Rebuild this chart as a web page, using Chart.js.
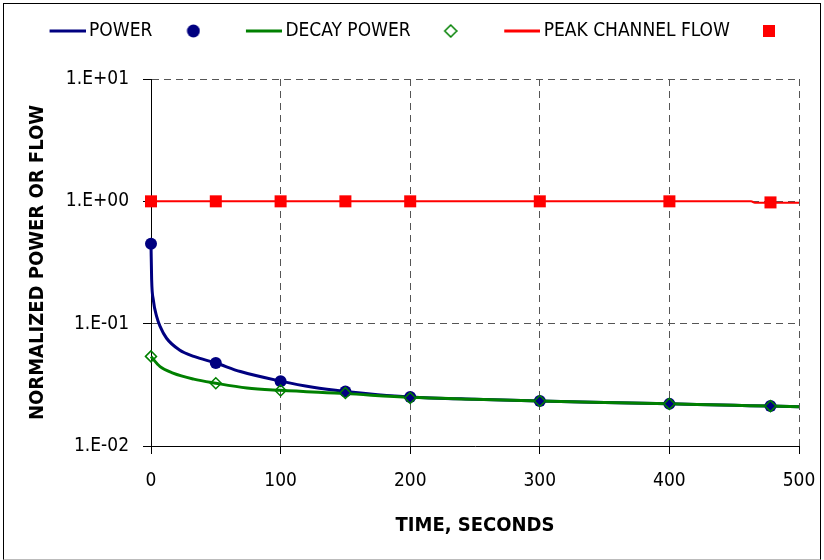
<!DOCTYPE html>
<html>
<head>
<meta charset="utf-8">
<script src="https://cdn.jsdelivr.net/npm/chart.js@4"></script>
<style>
  html, body { margin: 0; padding: 0; background: #fff; }
  #wrap { position: relative; width: 824px; height: 560px; }
  #frame { position: absolute; left: 3px; top: 3px; width: 816px; height: 555px;
           border: 1px solid #000; border-bottom-color: #bbb; pointer-events: none; }
</style>
</head>
<body>
<div id="wrap">
  <canvas id="c" width="824" height="560"></canvas>
  <div id="frame"></div>
</div>
<script>
// Normalized power, decay power and peak channel flow after the transient
const FAMILY = '"DejaVu Sans Condensed", "DejaVu Sans", sans-serif';

// Marker points (seconds / normalized value)
const timeMarks  = [0, 50, 100, 150, 200, 300, 400, 478];
const powerMarks = [0.45, 0.0477, 0.0339, 0.0279, 0.0252, 0.0233, 0.0221, 0.0212];
const decayMarks = [0.054, 0.0326, 0.0284, 0.0271, 0.0247, 0.0233, 0.0221, 0.0212];
const flowMarks  = [1.0, 1.0, 1.0, 1.0, 1.0, 1.0, 1.0, 0.98];

// Continuous curves
const powerTime  = [0, 0.5, 1.8, 4.4, 7, 12, 22, 33, 50, 69, 100, 125, 150, 175, 200, 250, 300, 350, 400, 450, 478, 500];
const powerValue = [0.45, 0.23, 0.156, 0.114, 0.095, 0.076, 0.061, 0.054, 0.0477, 0.0406, 0.0339, 0.0302, 0.0279, 0.0263, 0.0252, 0.0241, 0.0233, 0.0227, 0.0221, 0.0215, 0.0212, 0.0209];
const decayTime  = [0, 7, 17, 33, 50, 74, 100, 150, 200, 250, 300, 350, 400, 450, 478, 500];
const decayValue = [0.0538, 0.0446, 0.0394, 0.0352, 0.0326, 0.0298, 0.0285, 0.0268, 0.0250, 0.0241, 0.0233, 0.0227, 0.0221, 0.0215, 0.0212, 0.0209];
const flowTime   = [0, 463, 466, 500];
const flowValue  = [1.0, 1.0, 0.975, 0.975];

// Axis ticks
const xTickValues = [0, 100, 200, 300, 400, 500];
const yTickValues = [0.01, 0.1, 1, 10];
const yTickLabels = ['1.E-02', '1.E-01', '1.E+00', '1.E+01'];

const NAVY = '#000080', GREEN = '#008000', RED = '#ff0000';

const pairs = (xs, ys) => xs.map((x, i) => ({ x: x, y: ys[i] }));

// Legend swatches: each canvas is centred on the legend box, so the
// drawing inside is shifted to sit where the sample should appear.
const BOX_W = 52;
function lineSwatch(color) {
  const c = document.createElement('canvas');
  c.width = 64; c.height = 4;
  const g = c.getContext('2d');
  g.fillStyle = color;
  g.fillRect(28, 0.5, 36, 3);
  return c;
}
function circleSwatch(color, shift) {
  const c = document.createElement('canvas');
  c.width = 14 + 2 * shift; c.height = 14;
  const g = c.getContext('2d');
  g.fillStyle = color;
  g.beginPath(); g.arc(c.width / 2 + shift, 7, 6.5, 0, Math.PI * 2); g.fill();
  return c;
}
function diamondSwatch(color, shift) {
  const c = document.createElement('canvas');
  c.width = 14 + 2 * shift; c.height = 14;
  const g = c.getContext('2d');
  const cx = c.width / 2 + shift;
  g.strokeStyle = color; g.lineWidth = 1.5;
  g.beginPath(); g.moveTo(cx, 1); g.lineTo(cx + 6, 7); g.lineTo(cx, 13); g.lineTo(cx - 6, 7); g.closePath(); g.stroke();
  return c;
}
function squareSwatch(color, shift) {
  const c = document.createElement('canvas');
  c.width = 12 + 2 * shift; c.height = 12;
  const g = c.getContext('2d');
  g.fillStyle = color; g.fillRect(2 * shift, 0, 12, 12);
  return c;
}
const swatches = [
  lineSwatch(NAVY), circleSwatch(NAVY, 10),
  lineSwatch(GREEN), diamondSwatch(GREEN, 9),
  lineSwatch(RED), squareSwatch(RED, 8)
];

const lineDefaults = { pointRadius: 0, pointHoverRadius: 0, fill: false, clip: false, cubicInterpolationMode: 'monotone' };
const markDefaults = { showLine: false, clip: false, pointHoverRadius: 0 };

new Chart(document.getElementById('c'), {
  type: 'line',
  data: {
    datasets: [
      Object.assign({ label: 'POWER', data: pairs(powerTime, powerValue), borderColor: NAVY, borderWidth: 3, order: 6 }, lineDefaults),
      Object.assign({ label: '', data: pairs(timeMarks, powerMarks), pointStyle: 'circle', pointRadius: 6,
        backgroundColor: NAVY, borderColor: NAVY, pointBorderWidth: 0, order: 3 }, markDefaults),
      Object.assign({ label: 'DECAY POWER', data: pairs(decayTime, decayValue), borderColor: GREEN, borderWidth: 3, order: 5 }, lineDefaults),
      Object.assign({ label: '', data: pairs(timeMarks, decayMarks), pointStyle: 'rectRot', pointRadius: 5.5,
        backgroundColor: 'rgba(0,0,0,0)', borderColor: GREEN, pointBorderWidth: 1.5, order: 2 }, markDefaults),
      Object.assign({ label: 'PEAK CHANNEL FLOW', data: pairs(flowTime, flowValue), borderColor: RED, borderWidth: 2, order: 4 }, lineDefaults),
      Object.assign({ label: '', data: pairs(timeMarks, flowMarks), pointStyle: 'rect', pointRadius: 8.5,
        backgroundColor: RED, borderColor: RED, pointBorderWidth: 0, order: 1 }, markDefaults)
    ]
  },
  options: {
    responsive: false,
    animation: false,
    events: [],
    devicePixelRatio: 1,
    layout: { padding: { top: 16.5, left: 0, right: 0, bottom: 0 } },
    plugins: {
      tooltip: { enabled: false },
      legend: {
        display: true,
        position: 'top',
        labels: {
          usePointStyle: true,
          pointStyleWidth: BOX_W,
          padding: 5,
          color: '#000',
          font: { family: FAMILY, size: 19 },
          generateLabels: (chart) => chart.data.datasets.map((ds, i) => ({
            text: ds.label,
            pointStyle: swatches[i],
            fillStyle: 'rgba(0,0,0,0)',
            strokeStyle: 'rgba(0,0,0,0)',
            lineWidth: 0,
            hidden: false,
            fontColor: '#000',
            datasetIndex: i
          }))
        }
      },
      // blank band between the legend and the plot area
      title: { display: true, text: '', weight: 500, padding: 0, font: { size: 10, lineHeight: '28.5px' } }
    },
    scales: {
      x: {
        type: 'linear',
        min: 0, max: 500,
        afterBuildTicks: (s) => { s.ticks = xTickValues.map(v => ({ value: v })); },
        afterFit: (s) => { s.height = 114; s.paddingRight = 25; },
        ticks: { font: { family: FAMILY, size: 19 }, color: '#000', padding: 16, maxRotation: 0, autoSkip: false },
        grid: { color: '#555', lineWidth: 1, tickColor: '#000', tickLength: 8 },
        border: { display: true, color: '#000', width: 1, dash: [7, 5] },
        title: { display: true, text: 'TIME, SECONDS', color: '#000',
                 font: { family: FAMILY, size: 20, weight: 'bold' }, padding: { top: 0, bottom: 22 } }
      },
      y: {
        type: 'logarithmic',
        min: 0.01, max: 10,
        afterBuildTicks: (s) => { s.ticks = yTickValues.map(v => ({ value: v })); },
        afterFit: (s) => { s.width = 151; },
        ticks: { font: { family: FAMILY, size: 19 }, color: '#000', padding: 14, autoSkip: false,
                 callback: (v, i) => yTickLabels[i] },
        grid: { color: '#555', lineWidth: 1, tickColor: '#000', tickLength: 8 },
        border: { display: true, color: '#000', width: 1, dash: [7, 5] },
        title: { display: true, text: 'NORMALIZED POWER OR FLOW', color: '#000',
                 font: { family: FAMILY, size: 20, weight: 'bold' }, padding: { top: 25.5, bottom: 0 } }
      }
    }
  }
});
</script>
</body>
</html>
